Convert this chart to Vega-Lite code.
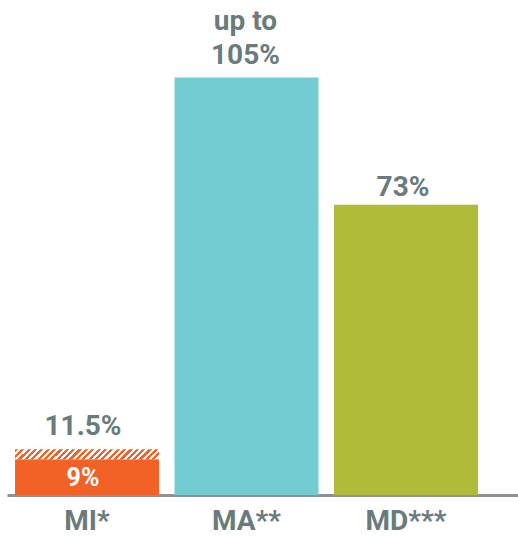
{
  "$schema": "https://vega.github.io/schema/vega-lite/v6.json",
  "width": 511,
  "height": 495,
  "autosize": "none",
  "padding": {"left": 7, "top": 0, "right": 0, "bottom": 42},
  "background": "white",
  "config": {"view": {"stroke": null}, "font": "'Liberation Sans Narrow', Roboto, sans-serif"},
  "data": {"values": [
    {"cat": "MI*", "value": 9, "ext": 11.5, "label": "11.5%", "inner": "9%"},
    {"cat": "MA**", "value": 105, "label": "up to\n105%"},
    {"cat": "MD***", "value": 73, "label": "73%"}
  ]},
  "encoding": {
    "x": {
      "field": "cat", "type": "nominal", "sort": null,
      "scale": {"paddingInner": 0.0972, "paddingOuter": 0.1506, "align": 0.167},
      "axis": {"title": null, "labelAngle": 0, "domainColor": "#919296", "domainWidth": 3, "ticks": false,
               "labelFontSize": 28, "labelFontWeight": "bold", "labelColor": "#6a7b7b", "labelPadding": 12, "labelBaseline": "top"}
    }
  },
  "layer": [
    {
      "mark": {"type": "bar"},
      "encoding": {
        "y": {"field": "value", "type": "quantitative", "scale": {"domain": [0, 124.5], "nice": false}, "axis": null},
        "color": {"field": "cat", "type": "nominal", "legend": null,
                  "scale": {"domain": ["MI*", "MA**", "MD***"], "range": ["#f26227", "#72ccd2", "#b0bb3a"]}}
      }
    },
    {
      "transform": [{"filter": "isValid(datum.ext)"}],
      "mark": {"type": "bar", "fill": {"gradient": "linear", "x1": 0, "y1": 0, "x2": 1.1, "y2": 0.0764, "stops": [
        {"offset": 0, "color": "#f26227"}, {"offset": 0.02, "color": "#f26227"}, {"offset": 0.02, "color": "#ffffff"}, {"offset": 0.04, "color": "#ffffff"},
        {"offset": 0.04, "color": "#f26227"}, {"offset": 0.06, "color": "#f26227"}, {"offset": 0.06, "color": "#ffffff"}, {"offset": 0.08, "color": "#ffffff"},
        {"offset": 0.08, "color": "#f26227"}, {"offset": 0.10, "color": "#f26227"}, {"offset": 0.10, "color": "#ffffff"}, {"offset": 0.12, "color": "#ffffff"},
        {"offset": 0.12, "color": "#f26227"}, {"offset": 0.14, "color": "#f26227"}, {"offset": 0.14, "color": "#ffffff"}, {"offset": 0.16, "color": "#ffffff"},
        {"offset": 0.16, "color": "#f26227"}, {"offset": 0.18, "color": "#f26227"}, {"offset": 0.18, "color": "#ffffff"}, {"offset": 0.20, "color": "#ffffff"},
        {"offset": 0.20, "color": "#f26227"}, {"offset": 0.22, "color": "#f26227"}, {"offset": 0.22, "color": "#ffffff"}, {"offset": 0.24, "color": "#ffffff"},
        {"offset": 0.24, "color": "#f26227"}, {"offset": 0.26, "color": "#f26227"}, {"offset": 0.26, "color": "#ffffff"}, {"offset": 0.28, "color": "#ffffff"},
        {"offset": 0.28, "color": "#f26227"}, {"offset": 0.30, "color": "#f26227"}, {"offset": 0.30, "color": "#ffffff"}, {"offset": 0.32, "color": "#ffffff"},
        {"offset": 0.32, "color": "#f26227"}, {"offset": 0.34, "color": "#f26227"}, {"offset": 0.34, "color": "#ffffff"}, {"offset": 0.36, "color": "#ffffff"},
        {"offset": 0.36, "color": "#f26227"}, {"offset": 0.38, "color": "#f26227"}, {"offset": 0.38, "color": "#ffffff"}, {"offset": 0.40, "color": "#ffffff"},
        {"offset": 0.40, "color": "#f26227"}, {"offset": 0.42, "color": "#f26227"}, {"offset": 0.42, "color": "#ffffff"}, {"offset": 0.44, "color": "#ffffff"},
        {"offset": 0.44, "color": "#f26227"}, {"offset": 0.46, "color": "#f26227"}, {"offset": 0.46, "color": "#ffffff"}, {"offset": 0.48, "color": "#ffffff"},
        {"offset": 0.48, "color": "#f26227"}, {"offset": 0.50, "color": "#f26227"}, {"offset": 0.50, "color": "#ffffff"}, {"offset": 0.52, "color": "#ffffff"},
        {"offset": 0.52, "color": "#f26227"}, {"offset": 0.54, "color": "#f26227"}, {"offset": 0.54, "color": "#ffffff"}, {"offset": 0.56, "color": "#ffffff"},
        {"offset": 0.56, "color": "#f26227"}, {"offset": 0.58, "color": "#f26227"}, {"offset": 0.58, "color": "#ffffff"}, {"offset": 0.60, "color": "#ffffff"},
        {"offset": 0.60, "color": "#f26227"}, {"offset": 0.62, "color": "#f26227"}, {"offset": 0.62, "color": "#ffffff"}, {"offset": 0.64, "color": "#ffffff"},
        {"offset": 0.64, "color": "#f26227"}, {"offset": 0.66, "color": "#f26227"}, {"offset": 0.66, "color": "#ffffff"}, {"offset": 0.68, "color": "#ffffff"},
        {"offset": 0.68, "color": "#f26227"}, {"offset": 0.70, "color": "#f26227"}, {"offset": 0.70, "color": "#ffffff"}, {"offset": 0.72, "color": "#ffffff"},
        {"offset": 0.72, "color": "#f26227"}, {"offset": 0.74, "color": "#f26227"}, {"offset": 0.74, "color": "#ffffff"}, {"offset": 0.76, "color": "#ffffff"},
        {"offset": 0.76, "color": "#f26227"}, {"offset": 0.78, "color": "#f26227"}, {"offset": 0.78, "color": "#ffffff"}, {"offset": 0.80, "color": "#ffffff"},
        {"offset": 0.80, "color": "#f26227"}, {"offset": 0.82, "color": "#f26227"}, {"offset": 0.82, "color": "#ffffff"}, {"offset": 0.84, "color": "#ffffff"},
        {"offset": 0.84, "color": "#f26227"}, {"offset": 0.86, "color": "#f26227"}, {"offset": 0.86, "color": "#ffffff"}, {"offset": 0.88, "color": "#ffffff"},
        {"offset": 0.88, "color": "#f26227"}, {"offset": 0.90, "color": "#f26227"}, {"offset": 0.90, "color": "#ffffff"}, {"offset": 0.92, "color": "#ffffff"},
        {"offset": 0.92, "color": "#f26227"}, {"offset": 0.94, "color": "#f26227"}, {"offset": 0.94, "color": "#ffffff"}, {"offset": 0.96, "color": "#ffffff"},
        {"offset": 0.96, "color": "#f26227"}, {"offset": 0.98, "color": "#f26227"}, {"offset": 0.98, "color": "#ffffff"}, {"offset": 1, "color": "#ffffff"}
      ]}},
      "encoding": {
        "y": {"field": "value", "type": "quantitative"},
        "y2": {"field": "ext"}
      }
    },
    {
      "transform": [{"filter": "datum.cat === 'MI*'"}],
      "mark": {"type": "text", "fontSize": 28, "fontWeight": "bold", "color": "#6a7b7b", "baseline": "alphabetic", "dy": -14, "dx": -4},
      "encoding": {"y": {"field": "ext", "type": "quantitative"}, "text": {"field": "label"}}
    },
    {
      "transform": [{"filter": "datum.cat === 'MI*'"}],
      "mark": {"type": "text", "fontSize": 25, "fontWeight": "bold", "color": "#ffffff", "baseline": "alphabetic", "dy": 27, "dx": -4},
      "encoding": {"y": {"field": "value", "type": "quantitative"}, "text": {"field": "inner"}}
    },
    {
      "transform": [{"filter": "datum.cat === 'MA**'"}],
      "mark": {"type": "text", "fontSize": 28, "fontWeight": "bold", "color": "#6a7b7b", "baseline": "alphabetic", "dy": -48, "dx": -1, "lineBreak": "\n", "lineHeight": 34},
      "encoding": {"y": {"field": "value", "type": "quantitative"}, "text": {"field": "label"}}
    },
    {
      "transform": [{"filter": "datum.cat === 'MD***'"}],
      "mark": {"type": "text", "fontSize": 28, "fontWeight": "bold", "color": "#6a7b7b", "baseline": "alphabetic", "dy": -9, "dx": -3},
      "encoding": {"y": {"field": "value", "type": "quantitative"}, "text": {"field": "label"}}
    }
  ]
}
